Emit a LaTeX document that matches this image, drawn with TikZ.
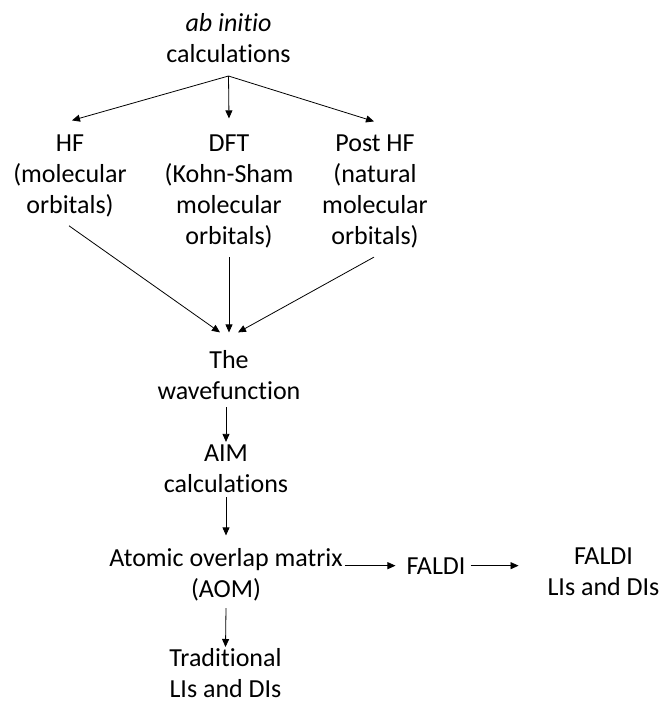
\documentclass[tikz,border=0pt]{standalone}
\usepackage{fontspec}
\setmainfont{Carlito}[Ligatures={NoCommon,NoContextual,NoRare}]
\usetikzlibrary{calc,arrows.meta}
\begin{document}
\begin{tikzpicture}[x=1pt,y=-1pt,
  font=\fontsize{26}{30.8}\selectfont,
  every node/.style={inner sep=0pt, outer sep=0pt, align=center, anchor=north},
  arr/.style={-{Triangle[length=8pt,width=7pt]}, line width=0.8pt, draw=black}]
\useasboundingbox (0,0) rectangle (661,702);
\node (abinit) at (228.5,10.4) {\strut\textit{ab initio}\\calculations\strut};
\node (hf)   at (70,130.4)  {\strut HF\\(molecular\\orbitals)\strut};
\node (dft)  at (229,130.4) {\strut DFT\\(Kohn-Sham\\molecular\\orbitals)\strut};
\node (post) at (375,130.4) {\strut Post HF\\(natural\\molecular\\orbitals)\strut};
\node (wave) at (229,347.4) {\strut The\\wavefunction\strut};
\node (aim)  at (226,440.4) {\strut AIM\\calculations\strut};
\node (aom)  at (226,545.4) {\strut Atomic overlap matrix\\(AOM)\strut};
\node (trad) at (225.5,645) {\strut Traditional\\LIs and DIs};
\node[anchor=base] (faldi) at (436,574) {FALDI};
\node (falr) at (603.5,543.4) {\strut FALDI\\LIs and DIs\strut};

\draw[arr] ($(abinit.south)+(0,4)$) -- ($(hf.north)+(2,-10)$);
\draw[arr] ($(abinit.south)+(0,4)$) -- ($(dft.north)+(0,-12)$);
\draw[arr] ($(abinit.south)+(0,4)$) -- ($(post.north)+(-1,-9)$);
\draw[arr] ($(hf.south)+(-1,3)$) -- ($(wave.north)+(-9,-15)$);
\draw[arr] ($(dft.south)+(0,3.5)$) -- ($(wave.north)+(0,-15)$);
\draw[arr] ($(post.south)+(-1,3.5)$) -- ($(wave.north)+(9,-15)$);
\draw[arr] ($(wave.south -| aim.north)+(0,-2)$) -- ($(aim.north)+(0,1.5)$);
\draw[arr] ($(aim.south)+(0,-5)$) -- ($(aom.north)+(0,-10)$);
\draw[arr] ($(aom.south)+(0,1)$) -- ($(trad.north)+(0,2)$);
\draw[arr] ($(faldi.west -| aom.east)+(2,0)$) -- ($(faldi.west)+(-11,0)$);
\draw[arr] ($(faldi.east)+(5,0)$) -- ($(faldi.east -| falr.west)+(-29,0)$);
\end{tikzpicture}
\end{document}
